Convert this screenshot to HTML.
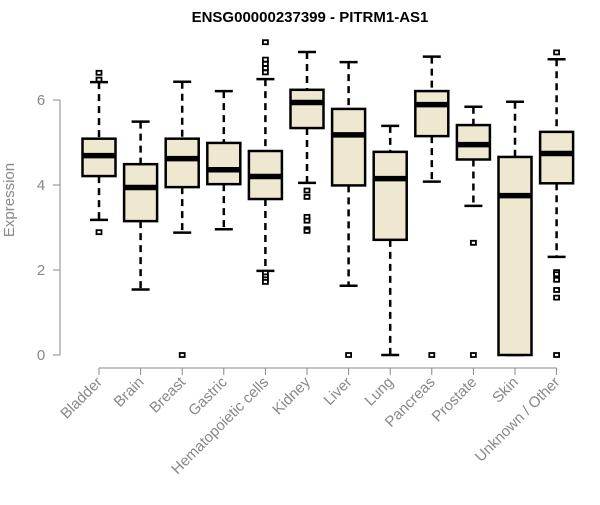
<!DOCTYPE html>
<html><head><meta charset="utf-8"><style>
body{margin:0;background:#fff;font-family:"Liberation Sans",Arial,sans-serif}
svg text{font-family:"Liberation Sans",Arial,sans-serif}
</style></head><body>
<svg id="chart" width="600" height="500" xmlns="http://www.w3.org/2000/svg">
<text x="310" y="22" text-anchor="middle" font-size="15" font-weight="bold">ENSG00000237399 - PITRM1-AS1</text>
<text transform="translate(14,200) rotate(-90)" text-anchor="middle" font-size="15" fill="#888">Expression</text>
<g id="axes"></g><g id="boxes"></g>
</svg>
<script>
const categories=["Bladder","Brain","Breast","Gastric","Hematopoietic cells","Kidney","Liver","Lung","Pancreas","Prostate","Skin","Unknown / Other"];
const whiskerLow=[3.18,1.54,2.88,2.96,1.98,4.05,1.63,0,4.08,3.51,0,2.31];
const q1=[4.21,3.15,3.95,4.02,3.67,5.34,3.99,2.71,5.15,4.60,0,4.04];
const median=[4.69,3.94,4.62,4.36,4.20,5.94,5.18,4.15,5.89,4.95,3.75,4.74];
const q3=[5.09,4.49,5.09,4.99,4.80,6.24,5.79,4.78,6.21,5.41,4.66,5.25];
const whiskerHigh=[6.42,5.49,6.43,6.21,6.49,7.13,6.89,5.39,7.02,5.84,5.96,6.96];
const outliers=[[6.64,6.48,2.89],[],[0],[],[7.36,6.95,6.85,6.75,6.65,1.93,1.85,1.78,1.72],[3.87,3.72,3.25,3.16,2.96,2.92],[0],[],[0],[2.64,0],[],[7.12,1.95,1.9,1.77,1.53,1.35,0]];
const yTicks=[0,2,4,6];
const NS="http://www.w3.org/2000/svg";
const x0=99,dx=41.6,yZero=355,yUnit=42.5;
function xs(i){return x0+i*dx}
function ys(v){return yZero-v*yUnit}
function mk(p,tag,a){const e=document.createElementNS(NS,tag);for(const k in a)e.setAttribute(k,a[k]);p.appendChild(e);return e}
const ax=document.getElementById('axes'),bx=document.getElementById('boxes');
const yl=mk(ax,'line',{x1:60,x2:60,y1:ys(yTicks[0]),y2:ys(yTicks[yTicks.length-1]),stroke:'#888'});


yTicks.forEach(t=>{
 const l=mk(ax,'line',{x1:53,x2:60,y1:ys(t),y2:ys(t),stroke:'#888'});
 
 
 const tx=mk(ax,'text',{x:41,y:ys(t)+5,'text-anchor':'middle','font-size':15,fill:'#888'});
 tx.textContent=t;
 
 
});
const xl=mk(ax,'line',{x1:xs(0),x2:xs(categories.length-1),y1:368,y2:368,stroke:'#888'});


categories.forEach((c,i)=>{
 const x=xs(i);
 const tk=mk(ax,'line',{x1:x,x2:x,y1:368,y2:375,stroke:'#888'});
 
 
 const tx=mk(ax,'text',{transform:`translate(${x+4},${383}) rotate(-45)`,'text-anchor':'end','font-size':15,fill:'#888'});
 tx.textContent=c;
 
 
 const g=mk(bx,'g',{});
 
 
 mk(g,'line',{x1:x,x2:x,y1:ys(whiskerHigh[i]),y2:ys(q3[i]),stroke:'#000','stroke-width':2.5,'stroke-dasharray':'7,5'});
 mk(g,'line',{x1:x,x2:x,y1:ys(q1[i]),y2:ys(whiskerLow[i]),stroke:'#000','stroke-width':2.5,'stroke-dasharray':'7,5'});
 mk(g,'line',{x1:x-9,x2:x+9,y1:ys(whiskerHigh[i]),y2:ys(whiskerHigh[i]),stroke:'#000','stroke-width':2.5});
 mk(g,'line',{x1:x-9,x2:x+9,y1:ys(whiskerLow[i]),y2:ys(whiskerLow[i]),stroke:'#000','stroke-width':2.5});
 mk(g,'rect',{x:x-16.5,y:ys(q3[i]),width:33,height:ys(q1[i])-ys(q3[i]),fill:'#EDE8CF',stroke:'#000','stroke-width':2.5});
 mk(g,'line',{x1:x-16.5,x2:x+16.5,y1:ys(median[i]),y2:ys(median[i]),stroke:'#000','stroke-width':5.5});
 outliers[i].forEach(o=>{
  const r=mk(g,'rect',{x:x-2.5,y:ys(o)-2,width:5,height:4,fill:'#fff',stroke:'#000','stroke-width':1.8});
  
  
 });
});
</script>
</body></html>
